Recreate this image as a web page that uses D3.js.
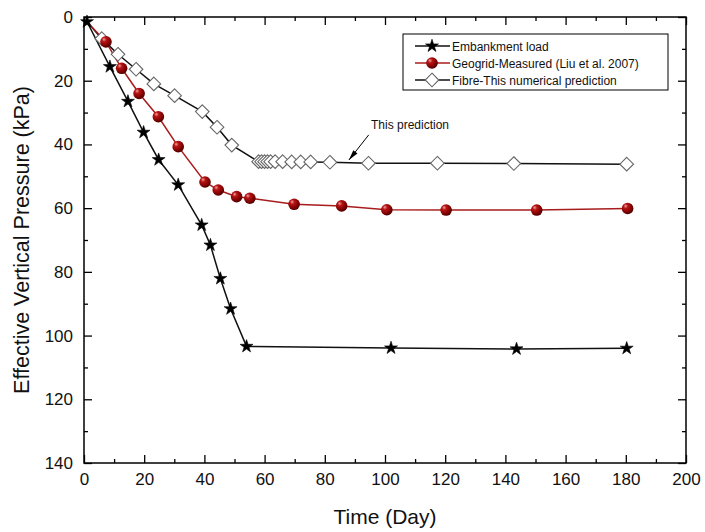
<!DOCTYPE html>
<html>
<head>
<meta charset="utf-8">
<script src="https://cdn.jsdelivr.net/npm/d3@7"></script>
<style>
  html, body { margin: 0; padding: 0; background: #fff; }
  svg { display: block; font-family: "Liberation Sans", Arial, sans-serif; }
</style>
</head>
<body>
<svg id="chart" width="705" height="532"></svg>
<script>
// ---- data ----
const embankmentTime = [1, 8.6, 14.6, 19.8, 24.8, 31.3, 39.1, 42.0, 45.3, 48.7, 54.0, 102, 143.7, 180.3];
const embankmentLoad = [1.5, 15.6, 26.5, 36.2, 44.8, 52.7, 65.3, 71.6, 82.1, 91.6, 103.4, 103.9, 104.2, 104.0];

const geogridTime = [1, 7.3, 12.5, 18.3, 24.7, 31.3, 40.2, 44.6, 50.7, 55.1, 69.8, 85.6, 100.6, 120.3, 150.4, 180.6];
const geogridPressure = [1.5, 7.8, 16.1, 24.0, 31.3, 40.7, 51.8, 54.3, 56.4, 56.9, 58.8, 59.3, 60.5, 60.6, 60.6, 60.1];

const fibreTime = [1, 5.9, 11.3, 17.3, 23.2, 30.1, 39.3, 44.2, 49.1, 58, 59, 60, 61, 62, 63.5, 66, 69, 72, 75.3, 81.7, 94.5, 117.4, 142.8, 180.3];
const fibrePressure = [1.5, 6.8, 11.7, 16.4, 21.0, 24.7, 29.7, 34.6, 40.2, 45.4, 45.4, 45.4, 45.4, 45.4, 45.4, 45.4, 45.5, 45.5, 45.5, 45.6, 45.9, 45.9, 46.0, 46.2];

const seriesNames = ["Embankment load", "Geogrid-Measured (Liu et al. 2007)", "Fibre-This numerical prediction"];
const xTicks = [0, 20, 40, 60, 80, 100, 120, 140, 160, 180, 200];
const yTicks = [0, 20, 40, 60, 80, 100, 120, 140];
const annotationText = "This prediction";
const annotationTail = [94.6, 37.0];
const annotationHead = [88.0, 44.9];

// ---- layout ----
const svg = d3.select("#chart");
const L = 84, R = 686, T = 17, B = 463;
const x = d3.scaleLinear().domain([0, 200]).range([L, R]);
const y = d3.scaleLinear().domain([0, 140]).range([T, B]);

const defs = svg.append("defs");
const grad = defs.append("radialGradient").attr("id", "ball")
  .attr("cx", "0.38").attr("cy", "0.35").attr("r", "0.65").attr("fx", "0.32").attr("fy", "0.28");
grad.append("stop").attr("offset", "0").attr("stop-color", "#f0a0a0");
grad.append("stop").attr("offset", "0.3").attr("stop-color", "#b81414");
grad.append("stop").attr("offset", "0.8").attr("stop-color", "#7a0000");
grad.append("stop").attr("offset", "1").attr("stop-color", "#4a0000");
defs.append("marker").attr("id", "arrowHead").attr("viewBox", "0 0 12 8")
  .attr("refX", 12).attr("refY", 4).attr("markerWidth", 11).attr("markerHeight", 7)
  .attr("markerUnits", "userSpaceOnUse").attr("orient", "auto")
  .append("path").attr("d", "M0,1 L12,4 L0,7 Z").attr("fill", "#000");

// ---- axes ----
const minorX = d3.range(10, 200, 20);
const minorY = d3.range(10, 140, 20);
function styleAxis(g) {
  g.select(".domain").remove();
  g.selectAll("line").attr("stroke", "#000").attr("stroke-width", 1.3);
  g.selectAll("text").attr("font-size", 17).attr("fill", "#111")
    .attr("font-family", "'Liberation Sans', Arial, sans-serif");
}
svg.append("g").attr("transform", `translate(0,${B})`)
  .call(d3.axisBottom(x).tickValues(xTicks).tickSize(-8).tickPadding(10).tickFormat(d3.format("d"))).call(styleAxis);
svg.append("g").attr("transform", `translate(0,${B})`)
  .call(d3.axisBottom(x).tickValues(minorX).tickSize(-4).tickFormat("")).call(styleAxis);
svg.append("g").attr("transform", `translate(0,${T})`)
  .call(d3.axisTop(x).tickValues(xTicks).tickSize(-8).tickFormat("")).call(styleAxis);
svg.append("g").attr("transform", `translate(0,${T})`)
  .call(d3.axisTop(x).tickValues(minorX).tickSize(-4).tickFormat("")).call(styleAxis);
svg.append("g").attr("transform", `translate(${L},0)`)
  .call(d3.axisLeft(y).tickValues(yTicks).tickSize(-8).tickPadding(11).tickFormat(d3.format("d"))).call(styleAxis);
svg.append("g").attr("transform", `translate(${L},0)`)
  .call(d3.axisLeft(y).tickValues(minorY).tickSize(-4).tickFormat("")).call(styleAxis);
svg.append("g").attr("transform", `translate(${R},0)`)
  .call(d3.axisRight(y).tickValues(yTicks).tickSize(-8).tickFormat("")).call(styleAxis);
svg.append("g").attr("transform", `translate(${R},0)`)
  .call(d3.axisRight(y).tickValues(minorY).tickSize(-4).tickFormat("")).call(styleAxis);

svg.append("rect").attr("x", L).attr("y", T).attr("width", R - L).attr("height", B - T)
  .attr("fill", "none").attr("stroke", "#000").attr("stroke-width", 1.5);

// titles
svg.append("text").attr("x", (L + R) / 2).attr("y", 524).attr("text-anchor", "middle")
  .attr("font-size", 21).attr("fill", "#111").text("Time (Day)");
svg.append("text").attr("transform", `translate(29,${(T + B) / 2}) rotate(-90)`)
  .attr("text-anchor", "middle").attr("font-size", 21.5).attr("fill", "#111")
  .text("Effective Vertical Pressure (kPa)");

// ---- series ----
const line = d3.line().x(d => x(d[0])).y(d => y(d[1]));
const zip = (a, b) => a.map((v, i) => [v, b[i]]);
const emb = zip(embankmentTime, embankmentLoad);
const geo = zip(geogridTime, geogridPressure);
const fib = zip(fibreTime, fibrePressure);

const star = d3.symbol().type(d3.symbolStar).size(52);
const diamond = "M0,-6.8 L6.8,0 L0,6.8 L-6.8,0 Z";

function drawStar(g, px, py) {
  g.append("path").attr("d", star()).attr("transform", `translate(${px},${py})`)
    .attr("fill", "#000").attr("stroke", "#000").attr("stroke-width", 0.6);
}
function drawBall(g, px, py) {
  g.append("circle").attr("cx", px).attr("cy", py).attr("r", 5.8).attr("fill", "url(#ball)");
}
function drawDiamond(g, px, py) {
  g.append("path").attr("d", diamond).attr("transform", `translate(${px},${py})`)
    .attr("fill", "#fff").attr("stroke", "#666").attr("stroke-width", 1.1);
}

const plot = svg.append("g");
plot.append("path").datum(fib).attr("d", line).attr("fill", "none").attr("stroke", "#111").attr("stroke-width", 1.5);
plot.append("path").datum(geo).attr("d", line).attr("fill", "none").attr("stroke", "#a81c1c").attr("stroke-width", 1.5);
plot.append("path").datum(emb).attr("d", line).attr("fill", "none").attr("stroke", "#111").attr("stroke-width", 1.5);
// the shared starting point carries only a small star in the reference
const fg = plot.append("g");
fib.slice(1).forEach(d => drawDiamond(fg, x(d[0]), y(d[1])));
const gg = plot.append("g");
geo.slice(1).forEach(d => drawBall(gg, x(d[0]), y(d[1])));
const eg = plot.append("g");
emb.forEach(d => drawStar(eg, x(d[0]), y(d[1])));

// annotation
svg.append("line").attr("x1", x(annotationTail[0])).attr("y1", y(annotationTail[1]))
  .attr("x2", x(annotationHead[0])).attr("y2", y(annotationHead[1]))
  .attr("stroke", "#000").attr("stroke-width", 1).attr("marker-end", "url(#arrowHead)");
svg.append("text").attr("x", 371).attr("y", 129).attr("font-size", 12).attr("fill", "#111").text(annotationText);

// ---- legend ----
const lg = svg.append("g");
lg.append("rect").attr("x", 403).attr("y", 34).attr("width", 265).attr("height", 56)
  .attr("fill", "#fff").attr("stroke", "#000").attr("stroke-width", 1);
const rows = [46, 63, 80];
const colors = ["#111", "#a81c1c", "#111"];
const drawers = [drawStar, drawBall, drawDiamond];
seriesNames.forEach((name, i) => {
  lg.append("line").attr("x1", 415).attr("x2", 450).attr("y1", rows[i]).attr("y2", rows[i])
    .attr("stroke", colors[i]).attr("stroke-width", 1.5);
  drawers[i](lg, 432, rows[i]);
  lg.append("text").attr("x", 452).attr("y", rows[i] + 4.5).attr("font-size", 12).attr("fill", "#111").text(name);
});
</script>
</body>
</html>
